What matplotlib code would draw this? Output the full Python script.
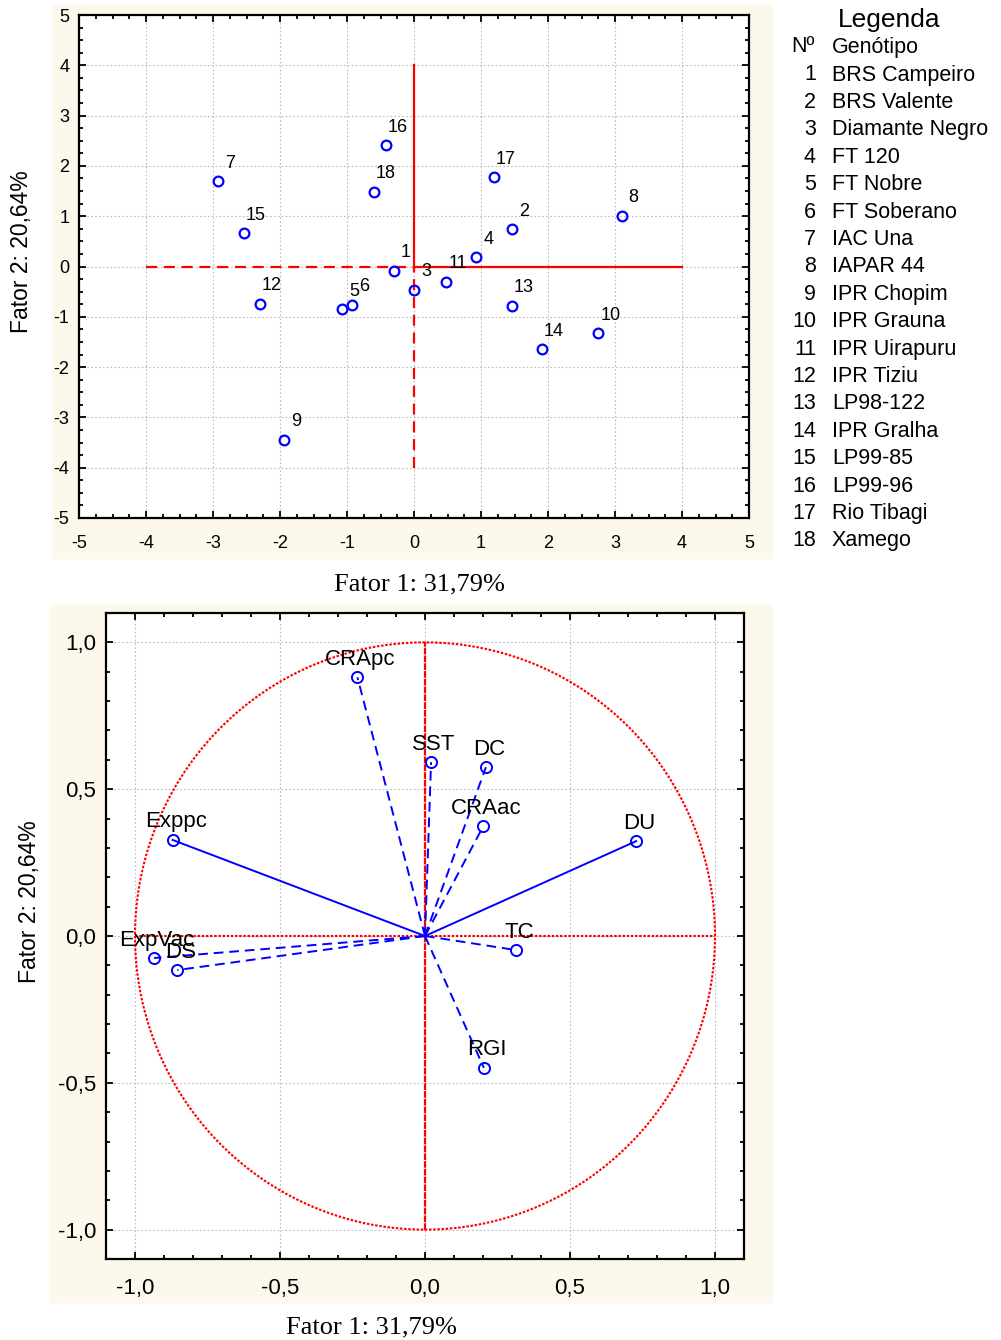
import matplotlib
matplotlib.use("Agg")
import matplotlib.pyplot as plt
import numpy as np
from matplotlib.patches import Rectangle
from matplotlib.ticker import MultipleLocator, FixedLocator

plt.rcParams['font.family'] = ['Liberation Sans', 'DejaVu Sans']
plt.rcParams['axes.unicode_minus'] = False

# ---------------- data ----------------
geno_ids = [str(i) for i in range(1, 19)]
geno_names = ["BRS Campeiro", "BRS Valente", "Diamante Negro", "FT 120", "FT Nobre",
              "FT Soberano", "IAC Una", "IAPAR 44", "IPR Chopim", "IPR Grauna",
              "IPR Uirapuru", "IPR Tiziu", "LP98-122", "IPR Gralha", "LP99-85",
              "LP99-96", "Rio Tibagi", "Xamego"]
f1_scores = [-0.30, 1.46, 0.00, 0.93, -1.07, -0.93, -2.93, 3.10, -1.94, 2.75,
             0.48, -2.30, 1.46, 1.91, -2.54, -0.42, 1.19, -0.60]
f2_scores = [-0.08, 0.74, -0.46, 0.18, -0.85, -0.76, 1.69, 1.01, -3.44, -1.33,
             -0.30, -0.74, -0.78, -1.65, 0.66, 2.41, 1.77, 1.49]

var_names = ["CRApc", "SST", "DC", "CRAac", "DU", "Exppc", "TC", "RGI", "ExpVac", "DS"]
f1_load = [-0.233, 0.021, 0.210, 0.201, 0.728, -0.870, 0.314, 0.203, -0.934, -0.854]
f2_load = [0.881, 0.592, 0.575, 0.374, 0.323, 0.327, -0.048, -0.449, -0.075, -0.116]
var_solid = [False, False, False, False, True, True, False, False, False, False]

xlabel_txt = "Fator 1: 31,79%"
ylabel_txt = "Fator 2: 20,64%"

W, H = 1001, 1340
fig = plt.figure(figsize=(W / 100, H / 100), dpi=100)
cream = '#fdf8ec'

def fx(px):
    return px / W

def fy(py):
    return 1 - py / H

# cream panels
r1 = Rectangle((fx(52), fy(558)), (772 - 52) / W, (558 - 5) / H,
               transform=fig.transFigure, color=cream, zorder=-5)
r2 = Rectangle((fx(50), fy(1302)), (772 - 50) / W, (1302 - 605) / H,
               transform=fig.transFigure, color=cream, zorder=-5)
fig.add_artist(r1)
fig.add_artist(r2)

def style_axes(ax, lab_size):
    for s in ax.spines.values():
        s.set_linewidth(1.6)
    ax.tick_params(which='both', direction='in', top=True, right=True, width=1.3)
    ax.tick_params(which='major', length=5, labelsize=lab_size, pad=7)
    ax.tick_params(which='minor', length=3)
    ax.grid(True, which='major', linestyle=(0, (1.5, 2)), color='#bbbbbb', linewidth=0.8)
    ax.set_axisbelow(True)

# ---------------- top chart ----------------
ax1 = fig.add_axes([fx(79), fy(518), (749 - 79) / W, (518 - 15) / H])
ax1.set_facecolor('white')
ax1.set_xlim(-5, 5)
ax1.set_ylim(-5, 5)
ax1.xaxis.set_major_locator(MultipleLocator(1))
ax1.yaxis.set_major_locator(MultipleLocator(1))
ax1.xaxis.set_minor_locator(MultipleLocator(0.25))
ax1.yaxis.set_minor_locator(MultipleLocator(0.25))
style_axes(ax1, 13)
ax1.tick_params(axis='x', pad=12)

red = '#ff0000'
ax1.plot([-4, 0], [0, 0], color=red, lw=1.6, ls=(0, (5, 3)), zorder=2)
ax1.plot([0, 4], [0, 0], color=red, lw=1.6, zorder=2)
ax1.plot([0, 0], [0, 4], color=red, lw=1.6, zorder=2)
ax1.plot([0, 0], [-4, 0], color=red, lw=1.6, ls=(0, (5, 3)), zorder=2)

ax1.plot(f1_scores, f2_scores, 'o', ms=7, mfc='none', mec='#0000ff', mew=1.6, zorder=3)
for gid, x, y in zip(geno_ids, f1_scores, f2_scores):
    ax1.annotate(gid, (x, y), xytext=(12, 18), textcoords='offset pixels',
                 ha='center', va='center', fontsize=13, zorder=4)

fig.text(fx(419), fy(584), xlabel_txt, family=['Liberation Serif'], fontsize=19,
         ha='center', va='center')
fig.text(fx(22), fy(252), ylabel_txt, fontsize=16.5, rotation=90, ha='center', va='center')

# legend
fig.text(fx(889), fy(20), "Legenda", fontsize=19, ha='center', va='center')
fig.text(fx(791), fy(47), "Nº", fontsize=15.5, ha='left', va='center')
fig.text(fx(832), fy(47), "Genótipo", fontsize=15.5, ha='left', va='center')
for i, (gid, name) in enumerate(zip(geno_ids, geno_names)):
    yy = 75 + i * 27.4
    fig.text(fx(816), fy(yy), gid, fontsize=15.5, ha='right', va='center')
    fig.text(fx(832), fy(yy), name, fontsize=15.5, ha='left', va='center')

# ---------------- bottom chart ----------------
ax2 = fig.add_axes([fx(106), fy(1259), (744 - 106) / W, (1259 - 613) / H])
ax2.set_facecolor('white')
ax2.set_xlim(-1.1, 1.1)
ax2.set_ylim(-1.1, 1.1)
ticks = [-1.0, -0.5, 0.0, 0.5, 1.0]
ax2.xaxis.set_major_locator(FixedLocator(ticks))
ax2.yaxis.set_major_locator(FixedLocator(ticks))
ax2.xaxis.set_minor_locator(MultipleLocator(0.1))
ax2.yaxis.set_minor_locator(MultipleLocator(0.1))
ax2.set_xticklabels([f"{t:.1f}".replace('.', ',') for t in ticks])
ax2.set_yticklabels([f"{t:.1f}".replace('.', ',') for t in ticks])
style_axes(ax2, 16)
ax2.tick_params(axis='x', pad=14)

th = np.linspace(0, 2 * np.pi, 400)
dot = (0, (1.2, 0.8))
ax2.plot(np.cos(th), np.sin(th), color=red, lw=1.5, ls=dot, zorder=2)
ax2.plot([-1, 1], [0, 0], color=red, lw=1.5, ls=dot, zorder=2)
ax2.plot([0, 0], [-1, 1], color=red, lw=1.6, ls=(0, (3, 0.5)), zorder=2)

blue = '#0000ff'
for name, x, y, solid in zip(var_names, f1_load, f2_load, var_solid):
    ax2.plot([0, x], [0, y], color=blue, lw=1.4,
             ls='-' if solid else (0, (5, 3)), zorder=3)
    ax2.plot([x], [y], 'o', ms=8, mfc='none', mec=blue, mew=1.4, zorder=4)
    ax2.annotate(name, (x, y), xytext=(3, 18), textcoords='offset pixels',
                 ha='center', va='center', fontsize=16, zorder=5)

fig.text(fx(371), fy(1327), xlabel_txt, family=['Liberation Serif'], fontsize=19,
         ha='center', va='center')
fig.text(fx(30), fy(902), ylabel_txt, fontsize=16.5, rotation=90, ha='center', va='center')

fig.savefig("out.png", dpi=100)
